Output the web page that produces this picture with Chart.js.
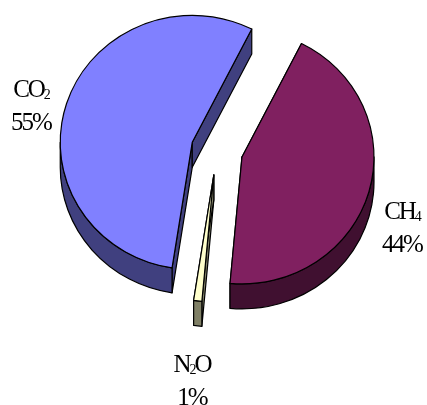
<!DOCTYPE html>
<html>
<head>
<meta charset="utf-8">
<title>Greenhouse gas shares</title>
<script src="https://cdn.jsdelivr.net/npm/chart.js@4/dist/chart.umd.min.js"></script>
<style>
  html, body { margin: 0; padding: 0; background: #fff; }
  canvas { display: block; }
</style>
</head>
<body>
<canvas id="pie" width="427" height="405"></canvas>
<script>
const gases = ['CH4', 'N2O', 'CO2'];
const shares = [44, 1, 55];
const faceColors = ['#802060', '#FFFFCC', '#8080FF'];
const wallColors = ['#401030', '#808066', '#40407F'];

const TILT = 127 / 132;      // vertical squash of the pie
const DEPTH = 25;            // wall height in px
const GAP = 26;              // how far each slice is pulled out, px
const RADIUS = 132;
const OUTLINE = '#000';
const LABEL_FONT = '"Liberation Serif", serif';

// centre x and baselines of the two label rows, same order as gases
const labelSpots = [
  { x: 402, y1: 219, y2: 252 },
  { x: 192, y1: 372, y2: 405 },
  { x: 31, y1: 97, y2: 130 }
];

// part of [start, end] that faces the viewer (lower half of the rim)
function frontRange(start, end) {
  const turn = Math.PI * 2;
  for (let k = -1; k <= 1; k++) {
    const a = Math.max(start, k * turn);
    const b = Math.min(end, k * turn + Math.PI);
    if (b > a) return [a, b];
  }
  return null;
}

const tiltPlugin = {
  id: 'tilt',
  // the built-in offset option trims thin arcs away, so move the slices here
  afterDatasetsUpdate(chart) {
    chart.getDatasetMeta(0).data.forEach(arc => {
      const mid = (arc.startAngle + arc.endAngle) / 2;
      arc.x += Math.cos(mid) * GAP;
      arc.y += Math.sin(mid) * GAP;
    });
  },
  beforeDatasetsDraw(chart) {
    const { ctx, chartArea } = chart;
    const midX = (chartArea.left + chartArea.right) / 2;
    const midY = (chartArea.top + chartArea.bottom) / 2;
    const drop = DEPTH / TILT;

    ctx.save();
    ctx.translate(midX, midY);
    ctx.scale(1, TILT);
    ctx.translate(-midX, -midY);

    const arcs = chart.getDatasetMeta(0).data;
    ctx.lineWidth = 1.2;
    ctx.strokeStyle = OUTLINE;
    ctx.lineJoin = 'round';

    // cut faces first, the rim and top faces paint over the hidden ones
    arcs.forEach((arc, i) => {
      ctx.fillStyle = wallColors[i];
      [arc.startAngle, arc.endAngle].forEach(a => {
        const ex = arc.x + Math.cos(a) * arc.outerRadius;
        const ey = arc.y + Math.sin(a) * arc.outerRadius;
        ctx.beginPath();
        ctx.moveTo(arc.x, arc.y);
        ctx.lineTo(ex, ey);
        ctx.lineTo(ex, ey + drop);
        ctx.lineTo(arc.x, arc.y + drop);
        ctx.closePath();
        ctx.fill();
        ctx.stroke();
      });
    });

    // outer walls
    arcs.forEach((arc, i) => {
      const range = frontRange(arc.startAngle, arc.endAngle);
      if (!range) return;
      ctx.fillStyle = wallColors[i];
      ctx.beginPath();
      ctx.arc(arc.x, arc.y, arc.outerRadius, range[0], range[1]);
      ctx.arc(arc.x, arc.y + drop, arc.outerRadius, range[1], range[0], true);
      ctx.closePath();
      ctx.fill();
      ctx.stroke();
    });
  },
  afterDatasetsDraw(chart) {
    const { ctx } = chart;
    ctx.restore();

    ctx.save();
    ctx.fillStyle = '#000';
    ctx.textBaseline = 'alphabetic';
    ctx.textAlign = 'left';
    gases.forEach((name, i) => {
      const spot = labelSpots[i];
      drawFormula(ctx, name, spot.x, spot.y1);
      ctx.font = '25px ' + LABEL_FONT;
      ctx.letterSpacing = '-2px';
      const pct = shares[i] + '%';
      ctx.fillText(pct, spot.x - ctx.measureText(pct).width / 2, spot.y2);
    });
    ctx.restore();
  }
};

// centred chemical formula, digits set as subscripts
function drawFormula(ctx, name, x, y) {
  const parts = name.split(/(\d)/).filter(Boolean);
  const fontFor = s => (/\d/.test(s) ? '14px ' : '25px ') + LABEL_FONT;
  ctx.letterSpacing = '-2px';
  let width = 0;
  parts.forEach(s => {
    ctx.font = fontFor(s);
    width += ctx.measureText(s).width;
  });
  let pen = x - width / 2;
  parts.forEach(s => {
    ctx.font = fontFor(s);
    ctx.fillText(s, pen, /\d/.test(s) ? y + 2 : y);
    pen += ctx.measureText(s).width;
  });
}

new Chart(document.getElementById('pie'), {
  type: 'pie',
  data: {
    labels: gases,
    datasets: [{
      data: shares,
      backgroundColor: faceColors,
      borderColor: OUTLINE,
      borderWidth: 1.2,
      borderJoinStyle: 'round'
    }]
  },
  options: {
    responsive: false,
    animation: false,
    events: [],
    rotation: 26.8,
    radius: RADIUS,
    layout: { padding: { left: 7, bottom: 105 } },
    plugins: { legend: { display: false }, tooltip: { enabled: false } }
  },
  plugins: [tiltPlugin]
});
</script>
</body>
</html>
